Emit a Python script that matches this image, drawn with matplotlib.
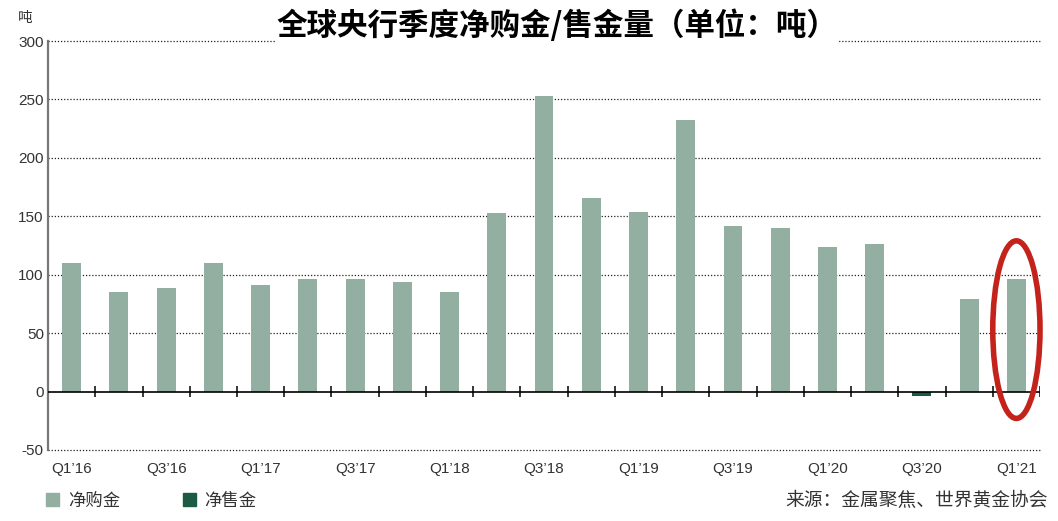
"""Central bank quarterly net gold purchases / sales chart."""

import matplotlib
matplotlib.use("Agg")
import matplotlib.pyplot as plt
import numpy as np
from matplotlib.patches import Ellipse, Patch

plt.rcParams["font.family"] = ["Noto Sans CJK SC", "DejaVu Sans"]

QUARTERS = [
    "Q1’16", "Q2’16", "Q3’16", "Q4’16",
    "Q1’17", "Q2’17", "Q3’17", "Q4’17",
    "Q1’18", "Q2’18", "Q3’18", "Q4’18",
    "Q1’19", "Q2’19", "Q3’19", "Q4’19",
    "Q1’20", "Q2’20", "Q3’20", "Q4’20",
    "Q1’21",
]
NET_TONNES = [
    110, 85, 89, 110,
    91.5, 96.5, 96.5, 94,
    85, 153, 253, 166,
    154, 232, 142, 140,
    124, 126, -4, 79.5,
    96,
]
Y_TICKS = [-50, 0, 50, 100, 150, 200, 250, 300]

BUY_COLOR = "#93afa2"
SELL_COLOR = "#1b5a43"
RED = "#c4231b"
LATIN = ["Liberation Sans", "DejaVu Sans"]

fig = plt.figure(figsize=(10.58, 5.21), dpi=100, facecolor="white")
ax = fig.add_axes([0.0454, 0.1363, 0.9376, 0.785])

x = np.arange(len(QUARTERS))
vals = np.array(NET_TONNES)
colors = [BUY_COLOR if v >= 0 else SELL_COLOR for v in vals]
ax.bar(x, vals, width=0.4, color=colors, zorder=3)

ax.set_xlim(-0.5, len(QUARTERS) - 0.5)
ax.set_ylim(-50, 300)

# dotted gridlines, solid zero line
for yv in Y_TICKS:
    if yv == 0:
        continue
    ax.axhline(yv, color="#222222", lw=0.9, ls=(0, (1, 1.5)), zorder=1,
               clip_on=False)
ax.axhline(0, color="black", lw=1.2, zorder=4)
ax.vlines(x + 0.5, -5, 5, color="black", lw=1.1, zorder=4)

for s in ["top", "right", "bottom"]:
    ax.spines[s].set_visible(False)
ax.spines["left"].set_color("#777777")
ax.spines["left"].set_linewidth(1.6)

ax.set_yticks(Y_TICKS)
ax.set_yticklabels([str(v) for v in Y_TICKS], fontsize=11, color="#333333",
                   family=LATIN)
ax.tick_params(axis="y", length=0, pad=3)

ax.set_xticks(x[::2])
ax.set_xticklabels(QUARTERS[::2], fontsize=11, color="#333333", family=LATIN)
ax.tick_params(axis="x", length=0, pad=9)

# unit label
fig.text(0.017, 0.978, "吨", fontsize=10.5, color="#333333", style="italic",
         ha="left", va="top")

# title with white background over the top gridline
fig.text(0.526, 0.950, "全球央行季度净购金/售金量（单位：吨）", fontsize=22,
         fontweight="bold", ha="center", va="center",
         bbox=dict(facecolor="white", edgecolor="none", pad=1))

# highlight ellipse around last quarter
ell = Ellipse((20, 53), width=1.0, height=152, fill=False, edgecolor=RED,
              lw=4, zorder=5, clip_on=False)
ax.add_patch(ell)

handles = [Patch(color=BUY_COLOR, label="净购金"),
           Patch(color=SELL_COLOR, label="净售金")]
fig.legend(handles=handles, loc="lower left", bbox_to_anchor=(0.029, -0.008),
           ncol=2, frameon=False, fontsize=12.5, handlelength=0.75,
           handleheight=0.75, handletextpad=0.5, columnspacing=3.6,
           labelcolor="#333333")

fig.text(0.99, 0.02, "来源：金属聚焦、世界黄金协会", fontsize=13.5,
         color="#333333", ha="right", va="bottom")

fig.savefig("out.png", dpi=100, facecolor="white")
